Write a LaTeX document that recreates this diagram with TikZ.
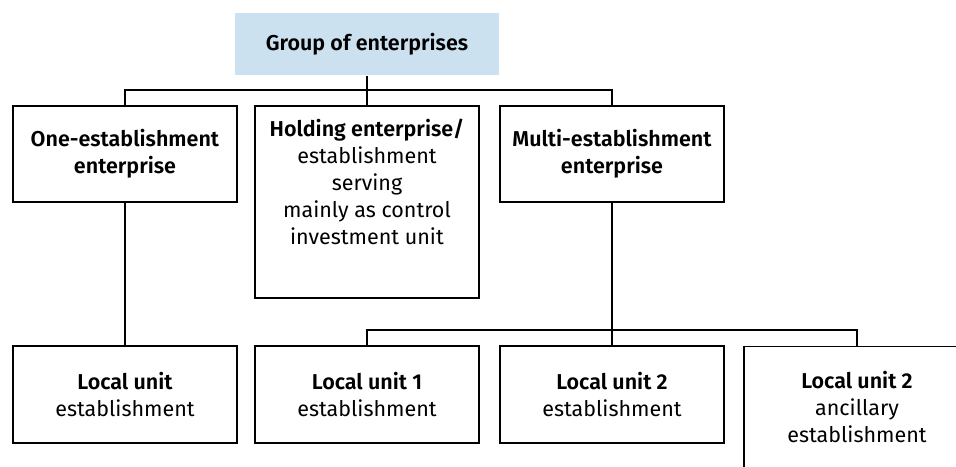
\documentclass[tikz,border=0pt]{standalone}
\usepackage{fontspec}
\setmainfont{Fira Sans}[BoldFont={Fira Sans SemiBold}]
\usetikzlibrary{positioning}
\definecolor{grpblue}{RGB}{204,225,240}

\begin{document}
\begin{tikzpicture}[%
        x=1pt,y=-1pt,
        line width=1.3pt,
        unitbox/.style={%
          draw,
          minimum width=224pt,
          minimum height=96pt,
          inner sep=0pt
        },
        boxtext/.style={%
          align=center,
          inner sep=0pt,
          font=\fontsize{21.5}{27}\selectfont
        }
      ]
      \useasboundingbox (0,0) rectangle (956,466);
      \clip (0,0) rectangle (956,466);
      % top level
      \node[fill=grpblue,minimum width=264pt,minimum height=62pt,boxtext,font=\bfseries\fontsize{21.5}{27}\selectfont] (grp) at (367,44) {Group of enterprises};
      % enterprises
      \node[unitbox,boxtext] (one) at (125,154) {\textbf{One-establishment}\\\textbf{enterprise}};
      \node[unitbox,minimum height=192pt] (hold) at (367,202) {};
      \node[boxtext,anchor=north] (holdtxt) at ([yshift=-13pt]hold.north) {\textbf{Holding enterprise/}\\establishment\\serving\\mainly as control\\investment unit};
      \node[unitbox,boxtext] (multi) at (612,154) {\textbf{Multi-establishment}\\\textbf{enterprise}};
      % local units
      \node[unitbox,minimum height=97pt,boxtext] (local) at (125,394.5) {\textbf{Local unit}\\establishment};
      \node[unitbox,minimum height=97pt,boxtext] (lu1) at (367,394.5) {\textbf{Local unit 1}\\establishment};
      \node[unitbox,minimum height=97pt,boxtext] (lu2) at (612,394.5) {\textbf{Local unit 2}\\establishment};
      \node[unitbox,minimum width=226pt,minimum height=200pt,anchor=north] (anc) at (857,346) {};
      \node[boxtext,anchor=north] (anctxt) at ([yshift=-25pt]anc.north) {\textbf{Local unit 2}\\ancillary\\establishment};
      % connectors
      \coordinate (topbar) at (367,90);
      \coordinate (lowbar) at (612,330);
      \draw (grp.south) -- (topbar);
      \draw (one.north) |- (topbar) -| (multi.north);
      \draw (hold.north) -- (topbar);
      \draw (one.south) -- (local.north);
      \draw (multi.south) -- (lowbar);
      \draw (lu1.north) |- (lowbar) -| (anc.north);
      \draw (lu2.north) -- (lowbar);
  \end{tikzpicture}
\end{document}
